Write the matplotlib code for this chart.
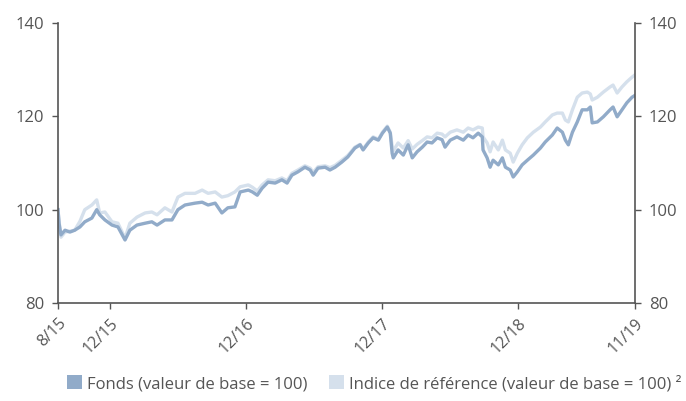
import matplotlib
matplotlib.use("Agg")
import matplotlib.pyplot as plt
from matplotlib.patches import Patch
import pandas as pd

# values (base 100 in Aug 2015)
dates = [
    "2015-08-14", "2015-08-17", "2015-08-22", "2015-09-02", "2015-09-15", "2015-09-28",
    "2015-10-12", "2015-10-25", "2015-11-13", "2015-11-26", "2015-12-04", "2015-12-18",
    "2016-01-06", "2016-01-22", "2016-02-10", "2016-02-23", "2016-03-13", "2016-04-04",
    "2016-04-22", "2016-05-06", "2016-05-27", "2016-06-15", "2016-07-01", "2016-07-20",
    "2016-08-16", "2016-09-04", "2016-09-20", "2016-10-09", "2016-10-27", "2016-11-12",
    "2016-12-01", "2016-12-15", "2017-01-06", "2017-01-17", "2017-01-30", "2017-02-12",
    "2017-02-28", "2017-03-19", "2017-04-06", "2017-04-20", "2017-05-03", "2017-05-19",
    "2017-06-07", "2017-06-21", "2017-06-29", "2017-07-12", "2017-07-31", "2017-08-13",
    "2017-08-27", "2017-09-14", "2017-09-30", "2017-10-19", "2017-11-02", "2017-11-10",
    "2017-11-24", "2017-12-07", "2017-12-21", "2018-01-01", "2018-01-14", "2018-01-22",
    "2018-01-27", "2018-01-30", "2018-02-12", "2018-02-26", "2018-03-11", "2018-03-22",
    "2018-04-04", "2018-04-18", "2018-05-01", "2018-05-14", "2018-05-28", "2018-06-10",
    "2018-06-18", "2018-07-02", "2018-07-20", "2018-08-06", "2018-08-19", "2018-09-01",
    "2018-09-15", "2018-09-26", "2018-09-28", "2018-10-09", "2018-10-17", "2018-10-25",
    "2018-11-08", "2018-11-19", "2018-11-27", "2018-12-10", "2018-12-18", "2018-12-29",
    "2019-01-11", "2019-01-25", "2019-02-10", "2019-03-01", "2019-03-14", "2019-04-02",
    "2019-04-15", "2019-04-29", "2019-05-07", "2019-05-15", "2019-05-26", "2019-06-08",
    "2019-06-21", "2019-07-05", "2019-07-13", "2019-07-18", "2019-08-01", "2019-08-17",
    "2019-09-04", "2019-09-12", "2019-09-23", "2019-10-06", "2019-10-19", "2019-11-02",
    "2019-11-10",
]

fonds = [
    100.0, 97.0, 94.6, 95.6, 95.2, 95.6,
    96.3, 97.4, 98.2, 100.0, 98.9, 97.8,
    96.7, 96.3, 93.5, 95.6, 96.7, 97.1,
    97.4, 96.7, 97.8, 97.8, 100.0, 101.0,
    101.4, 101.6, 101.0, 101.4, 99.3, 100.4,
    100.6, 103.8, 104.2, 103.8, 103.1, 104.6,
    105.9, 105.7, 106.4, 105.7, 107.4, 108.1,
    109.1, 108.5, 107.4, 108.9, 109.1, 108.5,
    109.1, 110.2, 111.3, 113.2, 113.9, 112.8,
    114.3, 115.4, 114.9, 116.4, 117.7, 116.4,
    112.1, 111.1, 112.8, 111.7, 113.9, 111.1,
    112.4, 113.4, 114.5, 114.3, 115.4, 115.0,
    113.4, 114.9, 115.6, 114.9, 116.0, 115.4,
    116.4, 115.6, 112.8, 111.1, 109.1, 110.6,
    109.6, 111.1, 109.1, 108.5, 107.0, 108.1,
    109.6, 110.6, 111.7, 113.2, 114.5, 116.0,
    117.5, 116.6, 114.9, 113.9, 116.6, 118.8,
    121.4, 121.4, 122.0, 118.6, 118.8, 119.9,
    121.4, 122.0, 119.9, 121.4, 122.9, 124.1,
    124.5,
]

indice = [
    100.0, 97.5, 94.1, 95.2, 95.4, 95.6,
    97.5, 100.0, 101.0, 102.1, 99.3, 99.5,
    97.4, 97.1, 93.9, 97.1, 98.4, 99.3,
    99.5, 98.9, 100.4, 99.5, 102.7, 103.5,
    103.5, 104.2, 103.5, 103.8, 102.7, 103.0,
    103.8, 104.9, 105.3, 104.8, 104.0, 105.3,
    106.4, 106.2, 106.8, 106.2, 107.8, 108.5,
    109.4, 108.9, 108.0, 109.2, 109.4, 109.0,
    109.5, 110.6, 111.6, 113.4, 114.0, 113.0,
    114.5, 115.6, 115.1, 116.6, 117.9, 116.6,
    113.6, 112.6, 114.3, 113.2, 114.8, 113.0,
    114.0, 114.8, 115.6, 115.4, 116.4, 116.2,
    115.6, 116.6, 117.1, 116.6, 117.5, 117.1,
    117.7, 117.5, 115.6, 114.3, 112.4, 114.5,
    112.8, 114.9, 112.8, 112.1, 110.2, 112.1,
    113.9, 115.4, 116.6, 117.7, 118.8, 120.3,
    120.7, 120.7, 119.2, 118.8, 121.4, 124.1,
    125.0, 125.2, 124.8, 123.5, 124.1, 125.2,
    126.3, 126.7, 125.0, 126.3, 127.4, 128.4,
    128.9,
]

tick_dates = ["2015-08-14", "2015-12-31", "2016-12-31", "2017-12-31", "2018-12-31", "2019-11-10"]
tick_labels = ["8/15", "12/15", "12/16", "12/17", "12/18", "11/19"]

FONDS_COLOR = "#91abc9"
INDICE_COLOR = "#d5e0ec"
AXIS_COLOR = "#555555"
TEXT_COLOR = "#555555"

plt.rcParams["font.family"] = ["Open Sans", "DejaVu Sans"]

x = pd.to_datetime(dates)

fig = plt.figure(figsize=(6.86, 4.01), dpi=100)
ax = fig.add_axes([0.0845, 0.2444, 0.8412, 0.6982])

ax.plot(x, indice, color=INDICE_COLOR, lw=2.4, solid_joinstyle="round")
ax.plot(x, fonds, color=FONDS_COLOR, lw=2.4, solid_joinstyle="round")

ax.set_ylim(80, 140)
ax.set_yticks([80, 100, 120, 140])
ax.set_xlim(pd.Timestamp(tick_dates[0]), pd.Timestamp(tick_dates[-1]))
ax.set_xticks(pd.to_datetime(tick_dates))
ax.set_xticklabels(tick_labels, rotation=45, ha="right", rotation_mode="anchor",
                   fontsize=11.5, color=TEXT_COLOR)

ax.tick_params(axis="y", which="both", left=True, right=True, labelleft=True,
               labelright=True, labelsize=12, labelcolor=TEXT_COLOR,
               color=AXIS_COLOR, length=4, width=1, pad=6)
ax.tick_params(axis="x", color=AXIS_COLOR, length=4, width=1, pad=5)

ax.spines["top"].set_visible(False)
for side in ["left", "right", "bottom"]:
    ax.spines[side].set_color(AXIS_COLOR)
    ax.spines[side].set_linewidth(1.2)

handles = [
    Patch(facecolor=FONDS_COLOR, edgecolor="none", label="Fonds (valeur de base = 100)"),
    Patch(facecolor=INDICE_COLOR, edgecolor="none", label="Indice de référence (valeur de base = 100) ²"),
]
fig.legend(handles=handles, loc="lower center", bbox_to_anchor=(0.545, -0.015), ncol=2,
           frameon=False, fontsize=12, handlelength=0.9, handleheight=0.9,
           handletextpad=0.3, columnspacing=1.3, labelcolor=TEXT_COLOR)

fig.savefig("out.png", dpi=100)
